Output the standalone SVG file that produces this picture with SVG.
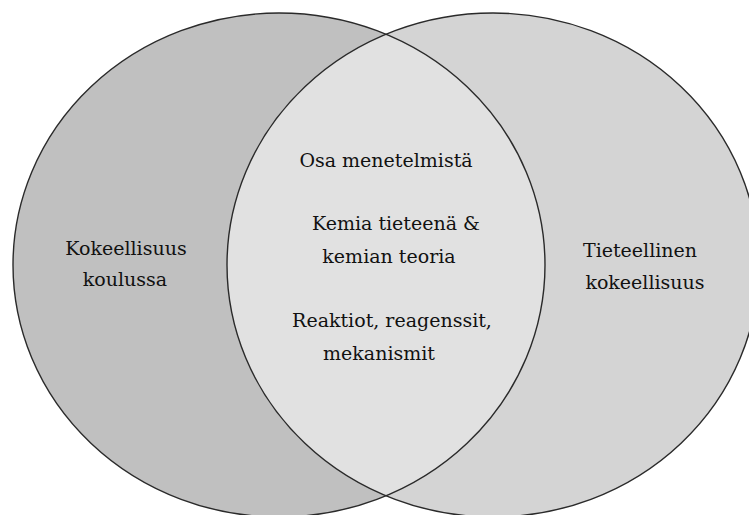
<svg xmlns="http://www.w3.org/2000/svg" width="749" height="515" viewBox="0 0 749 515">
  <style>
    .lbl { font-family: "DejaVu Serif", "Liberation Serif", serif; font-size: 19px; fill: #111; text-anchor: middle; }
    .edge { fill: none; stroke: #2a2a2a; stroke-width: 1.4; }
  </style>
  <defs>
    <clipPath id="clipLeft">
      <ellipse cx="279" cy="265" rx="266" ry="252"/>
    </clipPath>
  </defs>
  <rect x="0" y="0" width="749" height="515" fill="#ffffff"/>
  <g id="left-set">
    <ellipse cx="279" cy="265" rx="266" ry="252" fill="#c0c0c0"/>
  </g>
  <g id="right-set">
    <ellipse cx="493" cy="265" rx="266" ry="252" fill="#d4d4d4"/>
  </g>
  <g id="intersection">
    <ellipse cx="493" cy="265" rx="266" ry="252" fill="#e1e1e1" clip-path="url(#clipLeft)"/>
  </g>
  <g id="outlines">
    <ellipse class="edge" cx="279" cy="265" rx="266" ry="252"/>
    <ellipse class="edge" cx="493" cy="265" rx="266" ry="252"/>
  </g>
  <g id="left-label">
    <text class="lbl" x="126" y="255">Kokeellisuus</text>
    <text class="lbl" x="125" y="286">koulussa</text>
  </g>
  <g id="right-label">
    <text class="lbl" x="640" y="257">Tieteellinen</text>
    <text class="lbl" x="645" y="289">kokeellisuus</text>
  </g>
  <g id="middle-label">
    <text class="lbl" x="386" y="167">Osa menetelmistä</text>
    <text class="lbl" x="396" y="230">Kemia tieteenä &amp;</text>
    <text class="lbl" x="389" y="263">kemian teoria</text>
    <text class="lbl" x="392" y="327">Reaktiot, reagenssit,</text>
    <text class="lbl" x="379" y="360">mekanismit</text>
  </g>
</svg>
